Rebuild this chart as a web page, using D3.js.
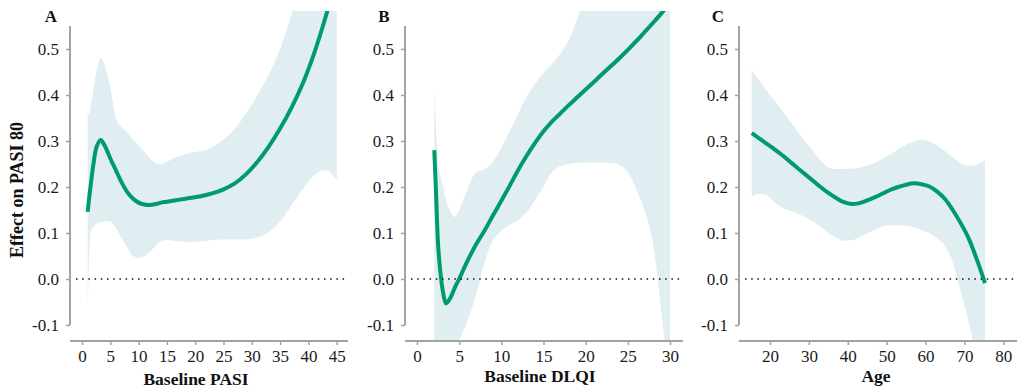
<!DOCTYPE html>
<html>
<head>
<meta charset="utf-8">
<script src="https://cdn.jsdelivr.net/npm/d3@7"></script>
<style>
  body { margin: 0; background: #fff; }
  svg { display: block; }
  .tick text { font-family: "Liberation Serif", "Times New Roman", serif; font-size: 17px; fill: #1a1a1a; }
  .title { font-family: "Liberation Serif", "Times New Roman", serif; font-weight: bold; fill: #111; }
</style>
</head>
<body>
<svg id="chart" width="1017" height="389"></svg>
<script>
// Panel A: baseline PASI
const pasiX     = [1, 1.3, 1.6, 2, 2.6, 3.3, 4, 5, 6, 7, 8, 9, 10, 11, 12, 13, 14, 15, 17, 19, 21, 23, 25, 27, 29, 31, 33, 35, 37, 39, 41, 43, 45];
const pasiFit   = [0.146, 0.18, 0.21, 0.248, 0.288, 0.302, 0.29, 0.262, 0.236, 0.21, 0.189, 0.175, 0.166, 0.162, 0.161, 0.163, 0.166, 0.168, 0.172, 0.176, 0.18, 0.186, 0.195, 0.208, 0.228, 0.255, 0.288, 0.327, 0.372, 0.425, 0.49, 0.568, 0.655];
const pasiLower = [-0.067, 0.06, 0.105, 0.113, 0.12, 0.123, 0.126, 0.125, 0.11, 0.088, 0.068, 0.05, 0.046, 0.05, 0.059, 0.072, 0.082, 0.085, 0.082, 0.08, 0.082, 0.085, 0.086, 0.086, 0.086, 0.09, 0.102, 0.125, 0.16, 0.195, 0.225, 0.237, 0.215];
const pasiUpper = [0.36, 0.36, 0.38, 0.41, 0.455, 0.48, 0.465, 0.415, 0.348, 0.33, 0.318, 0.303, 0.29, 0.277, 0.263, 0.252, 0.25, 0.255, 0.267, 0.274, 0.278, 0.286, 0.303, 0.327, 0.36, 0.4, 0.445, 0.5, 0.575, 0.66, 0.75, 0.85, 0.95];
const pasiTicks = [0, 5, 10, 15, 20, 25, 30, 35, 40, 45];

// Panel B: baseline DLQI
const dlqiX     = [2.05, 2.25, 2.5, 2.8, 3.1, 3.45, 3.9, 4.5, 5, 6, 7, 8, 9, 10, 11, 12, 13, 14, 15, 16, 17, 18, 19, 20, 21, 22, 23, 24, 25, 26, 27, 28, 29, 30];
const dlqiFit   = [0.28, 0.19, 0.075, 0.01, -0.03, -0.053, -0.043, -0.018, 0.0, 0.04, 0.075, 0.105, 0.138, 0.17, 0.203, 0.237, 0.268, 0.296, 0.321, 0.342, 0.36, 0.378, 0.395, 0.412, 0.429, 0.446, 0.463, 0.48, 0.498, 0.517, 0.537, 0.557, 0.578, 0.6];
const dlqiLower = [-0.9, -0.75, -0.6, -0.5, -0.42, -0.34, -0.25, -0.16, -0.135, -0.09, -0.035, 0.035, 0.083, 0.105, 0.118, 0.128, 0.145, 0.172, 0.2, 0.232, 0.245, 0.25, 0.252, 0.253, 0.253, 0.253, 0.252, 0.248, 0.232, 0.195, 0.148, 0.075, -0.075, -0.25];
const dlqiUpper = [0.42, 0.33, 0.26, 0.225, 0.2, 0.172, 0.15, 0.135, 0.15, 0.195, 0.232, 0.238, 0.255, 0.285, 0.322, 0.36, 0.396, 0.425, 0.448, 0.467, 0.49, 0.52, 0.565, 0.62, 0.68, 0.74, 0.8, 0.86, 0.92, 0.98, 1.04, 1.1, 1.16, 1.22];
const dlqiTicks = [0, 5, 10, 15, 20, 25, 30];

// Panel C: age
const ageX     = [15.3, 17, 19, 21, 23, 25, 27, 29, 31, 33, 35, 37, 39, 41, 43, 45, 47, 49, 51, 53, 55, 57, 59, 61, 63, 65, 67, 69, 71, 73, 75.3];
const ageFit   = [0.317, 0.307, 0.295, 0.283, 0.27, 0.256, 0.242, 0.228, 0.214, 0.2, 0.187, 0.176, 0.167, 0.163, 0.165, 0.171, 0.178, 0.186, 0.194, 0.2, 0.205, 0.208, 0.206, 0.201, 0.19, 0.174, 0.15, 0.122, 0.09, 0.047, -0.009];
const ageLower = [0.179, 0.185, 0.183, 0.168, 0.156, 0.149, 0.143, 0.135, 0.125, 0.114, 0.1, 0.09, 0.083, 0.084, 0.092, 0.099, 0.107, 0.114, 0.117, 0.117, 0.115, 0.112, 0.106, 0.1, 0.088, 0.072, 0.037, -0.025, -0.09, -0.17, -0.27];
const ageUpper = [0.454, 0.435, 0.411, 0.39, 0.368, 0.345, 0.322, 0.3, 0.279, 0.258, 0.243, 0.239, 0.239, 0.24, 0.242, 0.246, 0.253, 0.262, 0.271, 0.282, 0.292, 0.299, 0.302, 0.299, 0.29, 0.278, 0.264, 0.252, 0.246, 0.248, 0.259];
const ageTicks = [20, 30, 40, 50, 60, 70, 80];

const yTicks = [-0.1, 0.0, 0.1, 0.2, 0.3, 0.4, 0.5];

const panels = [
    { label: "A", title: "Baseline PASI", xs: pasiX, fit: pasiFit, lo: pasiLower, hi: pasiUpper, ticks: pasiTicks,
      domain: [0, 45], range: [82, 336.7], left: 70, right: 348, labelX: 51, titleX: 196, titleY: 385 },
    { label: "B", title: "Baseline DLQI", xs: dlqiX, fit: dlqiFit, lo: dlqiLower, hi: dlqiUpper, ticks: dlqiTicks,
      domain: [0, 30], range: [417, 670], left: 405, right: 683, labelX: 384, titleX: 540, titleY: 382 },
    { label: "C", title: "Age", xs: ageX, fit: ageFit, lo: ageLower, hi: ageUpper, ticks: ageTicks,
      domain: [20, 80], range: [770, 1003.3], left: 739, right: 1017, labelX: 718, titleX: 876, titleY: 382 }
];

const svg = d3.select("#chart");
const plotTop = 11, plotBottom = 340;
const yScale = d3.scaleLinear().domain([-0.1, 0.5]).range([325, 49]);
const fmt = d3.format(".1f");

const ribbonColor = "#e0eef2";
const lineColor = "#009a6f";
const axisColor = "#a3a3a3";

panels.forEach((p, i) => {
    const xScale = d3.scaleLinear().domain(p.domain).range(p.range);
    const rows = p.xs.map((x, k) => ({ x: x, fit: p.fit[k], lo: p.lo[k], hi: p.hi[k] }));

    svg.append("clipPath").attr("id", "clip" + i)
        .append("rect")
        .attr("x", p.left).attr("y", plotTop)
        .attr("width", p.right - p.left).attr("height", plotBottom - plotTop);

    const g = svg.append("g").attr("clip-path", `url(#clip${i})`);

    const area = d3.area()
        .x(d => xScale(d.x))
        .y0(d => yScale(d.lo))
        .y1(d => yScale(d.hi))
        .curve(d3.curveMonotoneX);

    const line = d3.line()
        .x(d => xScale(d.x))
        .y(d => yScale(d.fit))
        .curve(d3.curveCatmullRom.alpha(0.5));

    g.append("path").datum(rows)
        .attr("d", area)
        .attr("fill", ribbonColor);

    // reference line at zero
    svg.append("line")
        .attr("x1", p.left + 6).attr("x2", p.right)
        .attr("y1", yScale(0)).attr("y2", yScale(0))
        .attr("stroke", "#111")
        .attr("stroke-width", 1.6)
        .attr("stroke-dasharray", "1.5,4.7");

    g.append("path").datum(rows)
        .attr("d", line)
        .attr("fill", "none")
        .attr("stroke", lineColor)
        .attr("stroke-width", 4)
        .attr("stroke-linejoin", "round");

    // y axis
    const yAxis = d3.axisLeft(yScale)
        .tickValues(yTicks)
        .tickFormat(d => fmt(d).replace("−", "-"))
        .tickSize(4)
        .tickPadding(7);
    const ya = svg.append("g").attr("transform", `translate(${p.left},0)`).call(yAxis);
    ya.select(".domain").remove();
    ya.selectAll(".tick line").attr("stroke", axisColor).attr("stroke-width", 1.5);
    ya.append("line")
        .attr("x1", 0).attr("x2", 0).attr("y1", 26).attr("y2", 325)
        .attr("stroke", axisColor).attr("stroke-width", 2);

    // x axis
    const xAxis = d3.axisBottom(xScale)
        .tickValues(p.ticks)
        .tickSize(4)
        .tickPadding(5);
    const xa = svg.append("g").attr("transform", `translate(0,${plotBottom + 1})`).call(xAxis);
    xa.select(".domain").remove();
    xa.selectAll(".tick line").attr("stroke", axisColor).attr("stroke-width", 1.5);
    xa.append("line")
        .attr("x1", p.left).attr("x2", p.right).attr("y1", 0).attr("y2", 0)
        .attr("stroke", axisColor).attr("stroke-width", 2);

    svg.append("text").attr("class", "title")
        .attr("x", p.titleX).attr("y", p.titleY)
        .attr("text-anchor", "middle")
        .style("font-size", "17.5px")
        .text(p.title);

    svg.append("text").attr("class", "title")
        .attr("x", p.labelX).attr("y", 22)
        .attr("text-anchor", "middle")
        .style("font-size", "17px")
        .text(p.label);
});

svg.append("text").attr("class", "title")
    .attr("transform", "translate(23,190) rotate(-90)")
    .attr("text-anchor", "middle")
    .style("font-size", "18px")
    .text("Effect on PASI 80");
</script>
</body>
</html>
